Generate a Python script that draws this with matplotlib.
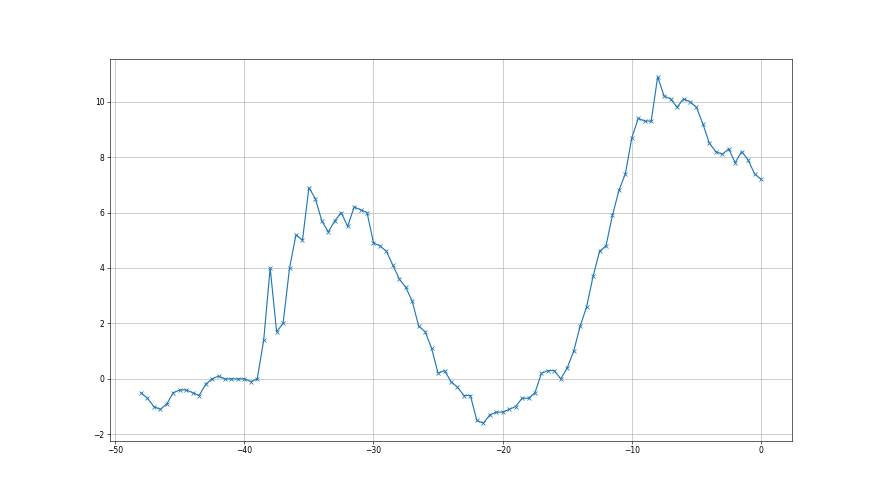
import numpy as np
import matplotlib
matplotlib.use("Agg")
import matplotlib.pyplot as plt

# x positions: -48 .. 0 in half steps
x_start = -48.0
x_step = 0.5
values = [
    -0.5, -0.7, -1.0, -1.1, -0.9, -0.5, -0.4, -0.4, -0.5, -0.6,
    -0.2, 0.0, 0.1, 0.0, 0.0, 0.0, 0.0, -0.1, 0.0, 1.4,
    4.0, 1.7, 2.0, 4.0, 5.2, 5.0, 6.9, 6.5, 5.7, 5.3,
    5.7, 6.0, 5.5, 6.2, 6.1, 6.0, 4.9, 4.8, 4.6, 4.1,
    3.6, 3.3, 2.8, 1.9, 1.7, 1.1, 0.2, 0.3, -0.1, -0.3,
    -0.6, -0.6, -1.5, -1.6, -1.3, -1.2, -1.2, -1.1, -1.0, -0.7,
    -0.7, -0.5, 0.2, 0.3, 0.3, 0.0, 0.4, 1.0, 1.9, 2.6,
    3.7, 4.6, 4.8, 5.9, 6.8, 7.4, 8.7, 9.4, 9.3, 9.3,
    10.9, 10.2, 10.1, 9.8, 10.1, 10.0, 9.8, 9.2, 8.5, 8.2,
    8.1, 8.3, 7.8, 8.2, 7.9, 7.4, 7.2,
]
xs = x_start + x_step * np.arange(len(values))

fig, ax = plt.subplots(figsize=(16, 9), dpi=55)
ax.plot(xs, values, marker="x")
ax.grid(True)

fig.savefig("out.png", dpi=55)
